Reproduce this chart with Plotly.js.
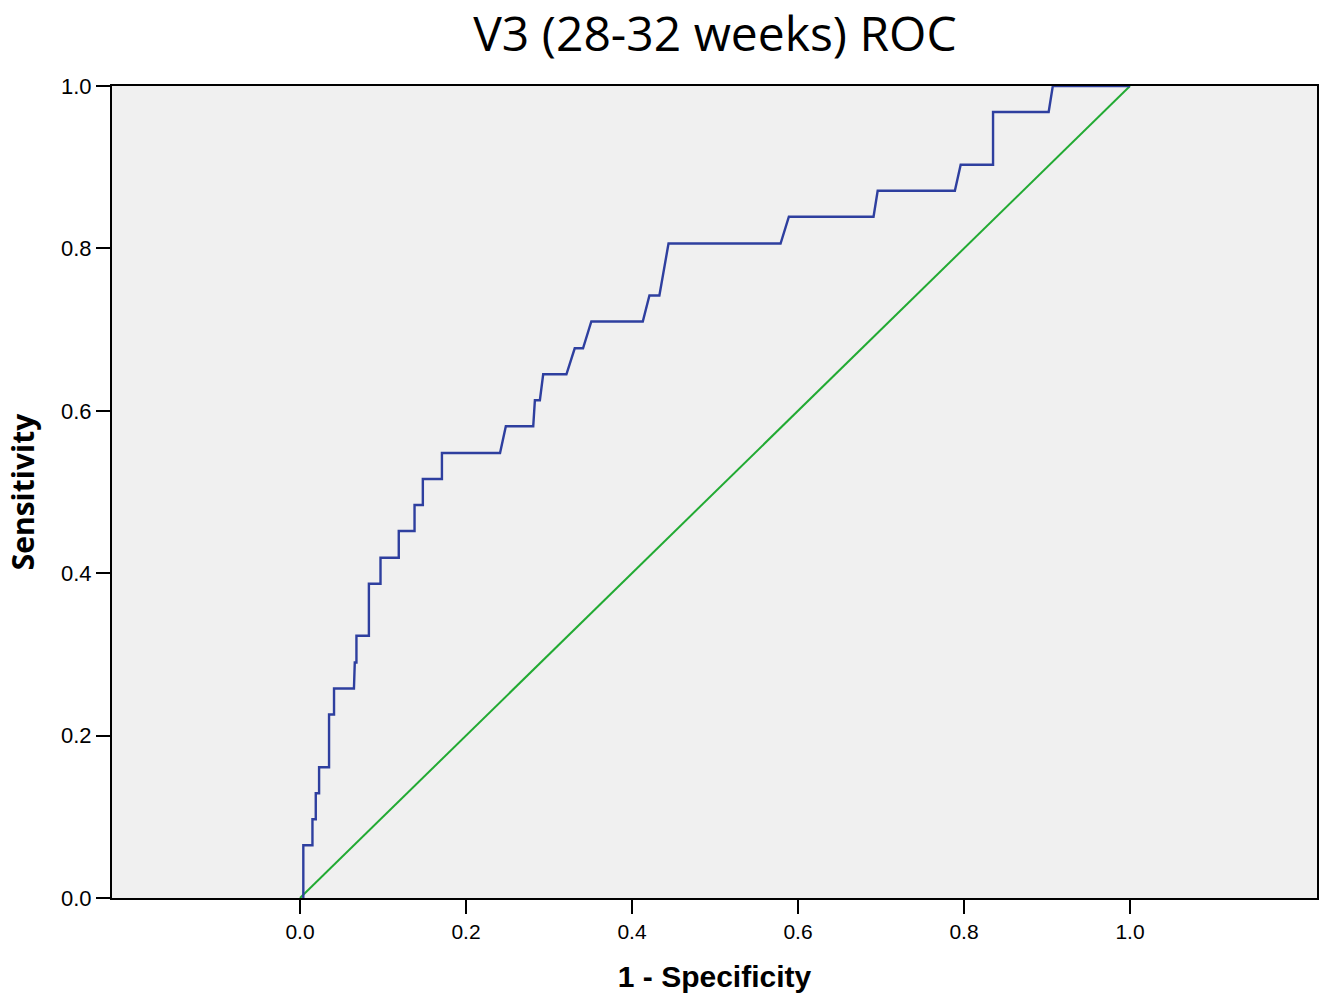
<!DOCTYPE html>
<html>
<head>
<meta charset="utf-8">
<script src="https://cdn.plot.ly/plotly-3.0.1.min.js"></script>
<style>html,body{margin:0;padding:0;background:#fff;}#chart{width:1324px;height:995px;}</style>
</head>
<body>
<div id="chart"></div>
<script>
// ROC curve vertices (1 - specificity, sensitivity)
const fpr = [0.004,0.004,0.015,0.015,0.019,0.019,0.023,0.023,0.035,0.035,0.041,0.041,0.065,0.066,0.068,0.068,0.083,0.083,0.097,0.097,0.119,0.119,0.138,0.138,0.148,0.148,0.171,0.171,0.241,0.248,0.281,0.283,0.289,0.293,0.321,0.331,0.341,0.351,0.413,0.421,0.433,0.444,0.579,0.589,0.691,0.696,0.789,0.796,0.835,0.835,0.902,0.907,1.0];
const tpr = [0.000,0.065,0.065,0.097,0.097,0.129,0.129,0.161,0.161,0.226,0.226,0.258,0.258,0.290,0.290,0.323,0.323,0.387,0.387,0.419,0.419,0.452,0.452,0.484,0.484,0.516,0.516,0.548,0.548,0.581,0.581,0.613,0.613,0.645,0.645,0.677,0.677,0.710,0.710,0.742,0.742,0.806,0.806,0.839,0.839,0.871,0.871,0.903,0.903,0.968,0.968,1.000,1.000];
const refX = [0, 1];
const refY = [0, 1];
const tickVals = [0, 0.2, 0.4, 0.6, 0.8, 1.0];
const tickText = ["0.0", "0.2", "0.4", "0.6", "0.8", "1.0"];

const traces = [
  {x: refX, y: refY, type: 'scatter', mode: 'lines', line: {color: '#22AA33', width: 2}, hoverinfo: 'skip'},
  {x: fpr, y: tpr, type: 'scatter', mode: 'lines', line: {color: '#2E3F9F', width: 2.4}, hoverinfo: 'skip'}
];

const layout = {
  width: 1324, height: 995,
  margin: {l: 112, r: 7, t: 86, b: 97, pad: 0},
  paper_bgcolor: '#ffffff',
  plot_bgcolor: '#F0F0F0',
  showlegend: false,
  title: {text: 'V3 (28-32 weeks) ROC', x: 0.54, xanchor: 'center', y: 0.9655, yanchor: 'middle',
          font: {family: 'Open Sans, Liberation Sans, sans-serif', size: 48, color: '#000'}},
  xaxis: {
    range: [-0.2265, 1.2253], showgrid: false, zeroline: false,
    showline: true, linecolor: '#000', linewidth: 2, mirror: true,
    ticks: 'outside', ticklen: 14, tickwidth: 2, tickcolor: '#000',
    tickvals: tickVals, ticktext: tickText,
    tickfont: {family: 'Liberation Sans, Arial, sans-serif', size: 21, color: '#000'},
    title: {text: '<b>1 - Specificity</b>', standoff: 24,
            font: {family: 'Liberation Sans, Arial, sans-serif', size: 30, color: '#000'}}
  },
  yaxis: {
    range: [0, 1], showgrid: false, zeroline: false,
    showline: true, linecolor: '#000', linewidth: 2, mirror: true,
    ticks: 'outside', ticklen: 14, tickwidth: 2, tickcolor: '#000',
    tickvals: tickVals, ticktext: tickText,
    tickfont: {family: 'Liberation Sans, Arial, sans-serif', size: 22, color: '#000'},
    title: {text: '<b>Sensitivity</b>', standoff: 18,
            font: {family: 'Open Sans, Liberation Sans, sans-serif', size: 30, color: '#000'}}
  }
};

Plotly.newPlot('chart', traces, layout, {displayModeBar: false, staticPlot: true});
</script>
</body>
</html>
